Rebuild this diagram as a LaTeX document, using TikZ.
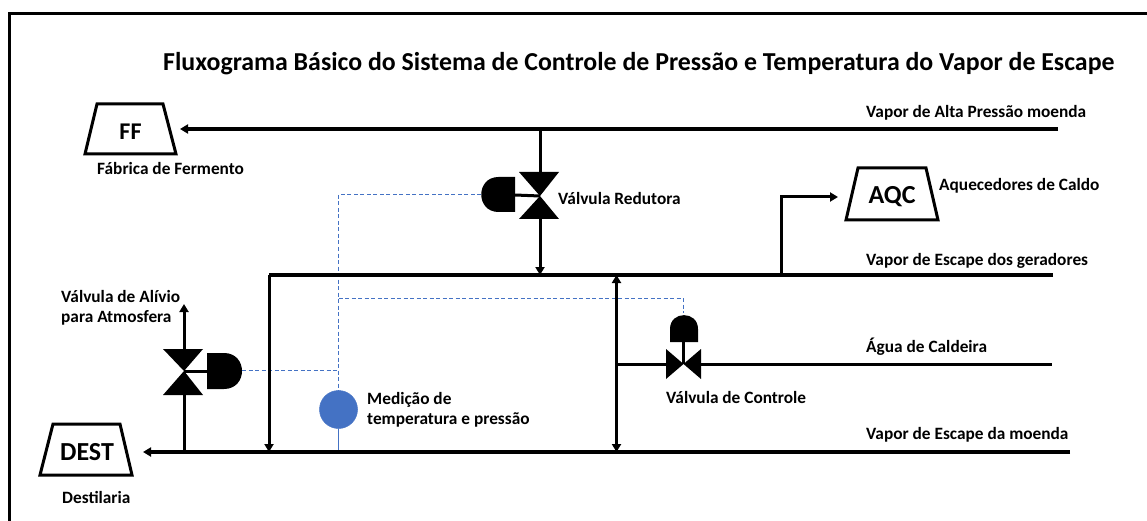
\documentclass[tikz,border=0pt]{standalone}
\usepackage{fontspec}
\setmainfont{Carlito}
\usetikzlibrary{arrows.meta}
\definecolor{sigblue}{HTML}{4472C4}
\tikzset{
  x=1pt,y=-1pt,
  every node/.style={font=\bfseries,inner sep=0pt,text=black},
  lab/.style={font=\bfseries\fontsize{17.3}{20}\selectfont,anchor=west,align=left},
  tag/.style={font=\bfseries\fontsize{26}{28}\selectfont,anchor=center},
  frame/.style={line width=3pt,line cap=butt},
  trap/.style={draw,line width=3pt,line join=miter,fill=white},
  main/.style={line width=3.2pt},
  pipe/.style={line width=3pt},
  tipend/.style={-{Triangle[length=8pt,width=9pt]}},
  tipboth/.style={{Triangle[length=8pt,width=9pt]}-{Triangle[length=8pt,width=9pt]}},
  signal/.style={draw=sigblue,line width=1pt,dash pattern=on 4pt off 2.5pt},
  valvefill/.style={fill=black,draw=none},
}
\begin{document}
\begin{tikzpicture}
\useasboundingbox (0,0) rectangle (1147,521);
% frame
\draw[frame] (9,521) -- (9,14) -- (1147,14);

% coordinates
\coordinate (ffTip) at (180,129);
\coordinate (hpEnd) at (1058,129);
\coordinate (hpT) at (540,129);
\coordinate (rvTop) at (540,172);
\coordinate (rvBot) at (540,219);
\coordinate (rvC) at (540,196);
\coordinate (rvAct) at (515,195);
\coordinate (rvSig) at (481,194.5);
\coordinate (rvOut) at (540,275);
\coordinate (gStart) at (269,275);
\coordinate (gEnd) at (1053,275);
\coordinate (gDown) at (269,452);
\coordinate (aqcT) at (781,275);
\coordinate (aqcBend) at (781,197);
\coordinate (aqcTip) at (838,197);
\coordinate (mEnd) at (1070,452);
\coordinate (destTip) at (143,452);
\coordinate (reliefBase) at (184,452);
\coordinate (reliefBot) at (184,395);
\coordinate (reliefTop) at (184,349);
\coordinate (reliefTip) at (184,304);
\coordinate (reliefC) at (184,371);
\coordinate (reliefAct) at (207,371);
\coordinate (reliefSig) at (242,370.5);
\coordinate (dblTop) at (616.5,275);
\coordinate (dblBot) at (616.5,452);
\coordinate (watT) at (616.5,364);
\coordinate (watValveL) at (666,364);
\coordinate (watValveR) at (701,364);
\coordinate (watEnd) at (1052,364);
\coordinate (cvC) at (683.5,364);
\coordinate (cvAct) at (683.5,342);
\coordinate (cvSig) at (683.5,313);
\coordinate (sigTop) at (338.5,194.5);
\coordinate (sigCross) at (338.5,298.5);
\coordinate (sigLeft) at (338.5,370.5);
\coordinate (sigCorner) at (683.5,298.5);
\coordinate (sigBot) at (338.5,391);
\coordinate (tBase) at (338.5,452);

% signal lines
\draw[signal] (rvSig) -- (sigTop) -- (sigBot);
\draw[signal] (sigCross) -- (sigCorner) -- (cvSig);
\draw[signal] (reliefSig) -- (sigLeft);

% temperature sensor
\node[circle,fill=sigblue,draw=sigblue,minimum size=38pt,line width=0.5pt] (sensor) at (338.5,409.5) {};
\draw[sigblue,line width=1pt] (sensor.south) -- (tBase);

% pipes
\draw[main,tipend] (hpEnd) -- (ffTip);
\draw[main] (gEnd) -- (gStart);
\draw[main,tipend] (mEnd) -- (destTip);
\draw[pipe] (hpT) -- (rvTop);
\draw[pipe,tipend] (rvBot) -- (rvOut);
\draw[pipe,tipend] (gStart) -- (gDown);
\draw[pipe,tipend] (aqcT) -- (aqcBend) -- (aqcTip);
\draw[pipe] (reliefBase) -- (reliefBot);
\draw[pipe,tipend] (reliefTop) -- (reliefTip);
\draw[pipe,tipboth] (dblTop) -- (dblBot);
\draw[pipe] (watT) -- (watValveL);
\draw[pipe] (watValveR) -- (watEnd);

% reducing valve
\fill[valvefill] (519,172) -- (559,172) -- (rvC) -- (559,219) -- (519,219) -- (rvC) -- cycle;
\draw[line width=3pt] (rvAct) -- (rvC);
\fill[valvefill] (515,177) -- (515,212) -- (498.5,212) .. controls (475.5,212) and (475.5,177) .. (498.5,177) -- cycle;

% relief valve
\fill[valvefill] (163,349) -- (203,349) -- (reliefC) -- (203,395) -- (163,395) -- (reliefC) -- cycle;
\draw[line width=3pt] (reliefAct) -- (reliefC);
\fill[valvefill] (207,353) -- (207,389) -- (224,389) .. controls (248,389) and (248,353) .. (224,353) -- cycle;

% control valve
\fill[valvefill] (666,349) -- (666,379) -- (cvC) -- (701,379) -- (701,349) -- (cvC) -- cycle;
\draw[line width=3pt] (cvAct) -- (cvC);
\fill[valvefill] (670,342) -- (698,342) -- (698,329) .. controls (698,310.5) and (670,310.5) .. (670,329) -- cycle;

% equipment
\draw[trap] (97,104) -- (163,104) -- (176,154) -- (85,154) -- cycle;
\draw[trap] (53,424) -- (120,424) -- (132,475) -- (40,475) -- cycle;
\draw[trap] (858,168) -- (926,168) -- (938,220) -- (846,220) -- cycle;
\node[tag,font=\bfseries\fontsize{24}{26}\selectfont] (ff) at (130.5,132) {FF};
\node[tag] (dest) at (87,452) {DEST};
\node[tag] (aqc) at (892,197) {AQC};

% labels
\node[lab,font=\bfseries\fontsize{25.85}{30}\selectfont] (title) at (163,63.5) {Fluxograma Básico do Sistema de Controle de Pressão e Temperatura do Vapor de Escape};
\node[lab] (t1) at (866,113) {Vapor de Alta Pressão moenda};
\node[lab] (t2) at (97,168) {Fábrica de Fermento};
\node[lab] (t3) at (558,198) {Válvula Redutora};
\node[lab] (t4) at (939,186) {Aquecedores de Caldo};
\node[lab] (t5) at (866,261) {Vapor de Escape dos geradores};
\node[lab] (t6) at (61,308) {Válvula de Alívio\\para Atmosfera};
\node[lab] (t7) at (866,347) {Água de Caldeira};
\node[lab] (t8) at (666,397) {Válvula de Controle};
\node[lab] (t9) at (367,410) {Medição de\\temperatura e pressão};
\node[lab] (t10) at (866,435) {Vapor de Escape da moenda};
\node[lab] (t11) at (62,497) {Destilaria};
\end{tikzpicture}
\end{document}
